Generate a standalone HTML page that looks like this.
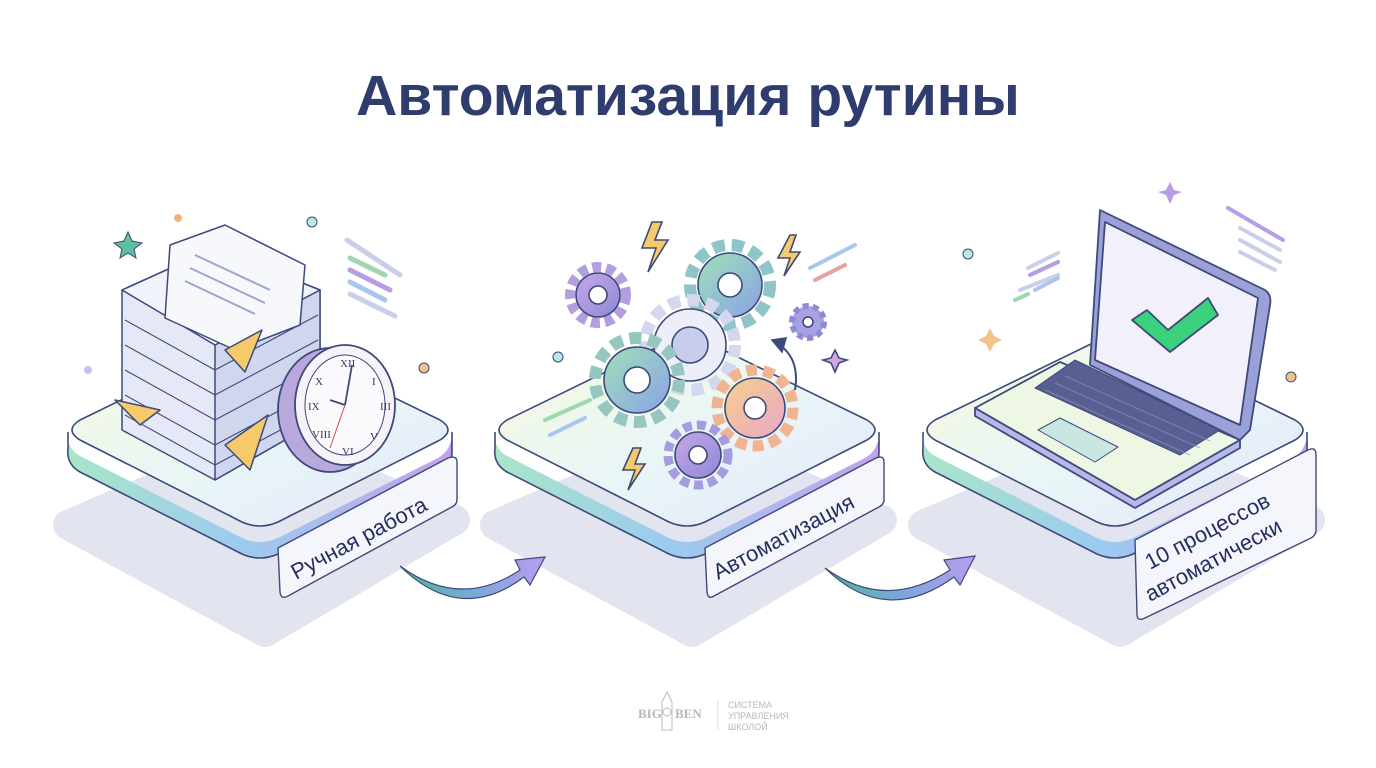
<!DOCTYPE html>
<html><head><meta charset="utf-8"><style>
html,body{margin:0;padding:0;background:#fff;}
svg{display:block;}
</style></head><body>
<svg width="1376" height="768" viewBox="0 0 1376 768" xmlns="http://www.w3.org/2000/svg" font-family="Liberation Sans, sans-serif">
<defs>
<linearGradient id="side" x1="0" y1="0" x2="1" y2="0">
<stop offset="0" stop-color="#a8e6c8"/><stop offset="0.45" stop-color="#9ccbef"/><stop offset="1" stop-color="#c2a2ec"/>
</linearGradient>
<linearGradient id="top" x1="0" y1="0" x2="1" y2="1">
<stop offset="0" stop-color="#f4f9dc"/><stop offset="0.5" stop-color="#eaf6f6"/><stop offset="1" stop-color="#e2e8fb"/>
</linearGradient>
<linearGradient id="arr" x1="0" y1="0" x2="1" y2="0">
<stop offset="0" stop-color="#4fb59a"/><stop offset="0.5" stop-color="#7aa8d8"/><stop offset="1" stop-color="#b89df0"/>
</linearGradient>
<linearGradient id="gear1" x1="0" y1="0" x2="1" y2="1">
<stop offset="0" stop-color="#9fe0b8"/><stop offset="1" stop-color="#8aa2e6"/>
</linearGradient>
<linearGradient id="gear2" x1="0" y1="0" x2="1" y2="1">
<stop offset="0" stop-color="#f7d08a"/><stop offset="1" stop-color="#e7a7c8"/>
</linearGradient>
<linearGradient id="gear3" x1="0" y1="0" x2="1" y2="1">
<stop offset="0" stop-color="#c9a6e8"/><stop offset="1" stop-color="#8c8ad6"/>
</linearGradient>
<g id="plat">
<path d="M68 525 L265 440 L455 520 L265 632 Z" fill="#e2e4ef" stroke="#e2e4ef" stroke-width="30" stroke-linejoin="round"/>
<path d="M68 432 Q66 448 80 456 L242 538 Q260 546 278 538 L438 458 Q452 450 452 432 L452 452 Q452 466 438 474 L278 554 Q260 562 242 554 L80 472 Q66 464 68 448 Z" fill="url(#side)"/>
<path d="M80 420 L240 342 Q260 334 280 342 L440 420 Q456 430 440 440 L278 522 Q260 530 242 522 L80 440 Q64 430 80 420 Z" fill="url(#top)" stroke="#3d4a7a" stroke-width="1.6"/>
<path d="M68 432 L68 448 Q66 464 80 472 L242 554 Q260 562 278 554 L438 474 Q452 466 452 452 L452 432" fill="none" stroke="#3d4a7a" stroke-width="1.6"/>
</g>
</defs>
<rect width="1376" height="768" fill="#fff"/>
<text x="688" y="115" text-anchor="middle" font-size="57" font-weight="bold" fill="#2f3d6e">Автоматизация рутины</text>

<use href="#plat" x="0" y="0"/>
<use href="#plat" x="427" y="0"/>
<use href="#plat" x="855" y="0"/>

<!-- Panel 1: papers -->
<g stroke="#3d4a7a" stroke-width="1.5" stroke-linejoin="round">
<path d="M122 290 L215 248 L320 290 L320 420 L215 480 L122 430 Z" fill="#e5e9f5"/>
<path d="M215 480 L215 345 L320 290 L320 420 Z" fill="#cfd6ee"/>
<path d="M122 290 L215 248 L320 290 L215 345 Z" fill="#f1f3fa"/>
<path d="M125 320 L215 370 L318 315 M125 345 L215 395 L318 340 M125 370 L215 420 L318 365 M125 395 L215 445 L318 390 M125 415 L215 465 L318 410" fill="none" stroke-width="1.1"/>
<path d="M170 245 L225 225 L305 265 L300 325 L235 350 L165 318 Z" fill="#f7f8fc"/>
<path d="M195 255 L270 290 M190 268 L265 303 M185 281 L255 314" stroke="#9aa6cc" stroke-width="2"/>
<path d="M225 350 L262 330 L245 372 Z" fill="#f6c96a"/>
<path d="M115 400 L160 410 L140 425 Z" fill="#f6c96a"/>
<path d="M225 445 L268 415 L250 470 Z" fill="#f6c96a"/>
</g>
<g stroke="#3d4a7a" stroke-width="1.8">
<ellipse cx="330" cy="410" rx="52" ry="62" fill="#b9a8dc"/>
<ellipse cx="345" cy="405" rx="50" ry="60" fill="#f6f3f8"/>
<ellipse cx="345" cy="405" rx="40" ry="50" fill="#fbf9fb" stroke-width="1"/>
<line x1="345" y1="405" x2="330" y2="400"/><line x1="345" y1="405" x2="352" y2="365"/>
<line x1="345" y1="405" x2="330" y2="448" stroke="#d24a4a" stroke-width="1"/>
</g>
<g font-size="11" fill="#2f3d6e" font-family="Liberation Serif, serif">
<text x="340" y="367">XII</text><text x="372" y="385">I</text><text x="380" y="410">III</text><text x="370" y="440">V</text><text x="342" y="455">VI</text><text x="312" y="438">VIII</text><text x="308" y="410">IX</text><text x="315" y="385">X</text>
</g>
<polygon points="128,232 132,241 142,243 134,249 136,258 128,253 120,258 122,249 114,243 124,241" fill="#5fc0a0" stroke="#3d4a7a" stroke-width="1"/>
<circle cx="178" cy="218" r="4" fill="#f3b27a"/><circle cx="312" cy="222" r="5" fill="#bfe6e6" stroke="#3d4a7a"/>
<circle cx="88" cy="370" r="4" fill="#bfc4ee"/><circle cx="424" cy="368" r="5" fill="#f3c28a" stroke="#3d4a7a"/>
<g stroke-linecap="round" stroke-width="5">
<line x1="347" y1="240" x2="400" y2="275" stroke="#c9cfe8"/>
<line x1="350" y1="258" x2="385" y2="275" stroke="#9fd6b0"/>
<line x1="350" y1="270" x2="390" y2="290" stroke="#b79de6"/>
<line x1="350" y1="282" x2="385" y2="300" stroke="#a9c7ee"/>
<line x1="350" y1="294" x2="395" y2="316" stroke="#c9cfe8"/>
</g>

<!-- Panel 2: gears -->
<g stroke="#3d4a7a" stroke-width="1.6">
<circle cx="598" cy="295" r="28" fill="none" stroke="#b39ee0" stroke-dasharray="9 5" stroke-width="10"/>
<circle cx="598" cy="295" r="22" fill="url(#gear3)"/><circle cx="598" cy="295" r="9" fill="#fff"/>
<circle cx="730" cy="285" r="40" fill="none" stroke="#8fc4c8" stroke-dasharray="12 7" stroke-width="12"/>
<circle cx="730" cy="285" r="32" fill="url(#gear1)"/><circle cx="730" cy="285" r="12" fill="#fff"/>
<circle cx="690" cy="345" r="45" fill="none" stroke="#d4d8ee" stroke-dasharray="12 7" stroke-width="12"/>
<circle cx="690" cy="345" r="36" fill="#eceef8"/><circle cx="690" cy="345" r="18" fill="#c7cdea"/>
<circle cx="637" cy="380" r="42" fill="none" stroke="#95c7c0" stroke-dasharray="12 7" stroke-width="12"/>
<circle cx="637" cy="380" r="33" fill="url(#gear1)"/><circle cx="637" cy="380" r="13" fill="#fff"/>
<circle cx="755" cy="408" r="38" fill="none" stroke="#f0b590" stroke-dasharray="11 6" stroke-width="11"/>
<circle cx="755" cy="408" r="30" fill="url(#gear2)"/><circle cx="755" cy="408" r="11" fill="#fff"/>
<circle cx="698" cy="455" r="30" fill="none" stroke="#a59ce0" stroke-dasharray="9 5" stroke-width="9"/>
<circle cx="698" cy="455" r="23" fill="url(#gear3)"/><circle cx="698" cy="455" r="9" fill="#fff"/>
<circle cx="808" cy="322" r="16" fill="#a7a2e4" stroke="#8f8ad6" stroke-dasharray="6 4" stroke-width="6"/>
<circle cx="808" cy="322" r="5" fill="#fff"/>
<path d="M652 222 L642 248 L656 248 L648 272 L668 240 L655 240 L662 222 Z" fill="#f6c96a"/>
<path d="M790 235 L778 258 L790 258 L784 276 L800 252 L790 252 L796 235 Z" fill="#f6c96a"/>
<path d="M633 448 L623 470 L635 470 L628 490 L645 464 L635 464 L641 448 Z" fill="#f6c96a"/>
<path d="M795 390 Q800 360 780 345" fill="none" stroke-width="2"/><path d="M772 340 L786 338 L782 352 Z" fill="#3d4a7a"/>
<polygon points="835,350 839,358 847,360 839,363 835,372 831,363 823,360 831,358" fill="#d5a7e0"/>
</g>
<g stroke-linecap="round" stroke-width="4">
<line x1="810" y1="268" x2="855" y2="245" stroke="#a9c7ee"/>
<line x1="815" y1="280" x2="845" y2="265" stroke="#e8a0a0"/>
<line x1="545" y1="420" x2="590" y2="400" stroke="#9fd6b0"/>
<line x1="550" y1="435" x2="585" y2="418" stroke="#a9c7ee"/>
</g>
<circle cx="558" cy="357" r="5" fill="#bfe6e6" stroke="#3d4a7a"/>

<!-- Panel 3: laptop -->
<g stroke="#3d4a7a" stroke-width="1.8" stroke-linejoin="round">
<path d="M975 408 L1060 362 L1240 440 L1135 500 Z" fill="#eef6e4"/>
<path d="M975 408 L975 416 L1135 508 L1240 448 L1240 440 L1135 500 Z" fill="#b7b7ea"/>
<path d="M1035 388 L1075 360 L1220 430 L1180 455 Z" fill="#5a5f92" stroke-width="1"/>
<path d="M1038 430 L1060 418 L1118 447 L1095 462 Z" fill="#c9e6e0" stroke-width="1"/>
<path d="M1100 210 L1265 290 Q1272 295 1270 305 L1250 430 L1240 440 L1090 365 Z" fill="#9aa0d8"/>
<path d="M1105 222 L1258 298 L1240 425 L1095 360 Z" fill="#f2f0fb"/>
<path d="M1132 320 L1147 310 L1168 330 L1208 298 L1218 315 L1170 352 Z" fill="#3cd17c"/>
</g>
<g stroke="#8a92c8" stroke-width="1" fill="none" opacity="0.7">
<path d="M1045 390 L1190 455 M1055 383 L1200 448 M1065 376 L1210 441"/>
</g>
<polygon points="1170,182 1174,190 1182,192 1174,195 1170,204 1166,195 1158,192 1166,190" fill="#b79de6"/>
<polygon points="990,328 994,336 1002,340 994,344 990,352 986,344 978,340 986,336" fill="#f3c28a"/>
<circle cx="968" cy="254" r="5" fill="#bfe6e6" stroke="#3d4a7a"/>
<circle cx="1291" cy="377" r="5" fill="#f3c28a" stroke="#3d4a7a"/>
<g stroke-linecap="round" stroke-width="4">
<line x1="1228" y1="208" x2="1283" y2="240" stroke="#b79de6"/>
<line x1="1240" y1="228" x2="1280" y2="250" stroke="#c9cfe8"/>
<line x1="1240" y1="240" x2="1280" y2="262" stroke="#c9cfe8"/>
<line x1="1240" y1="252" x2="1275" y2="270" stroke="#c9cfe8"/>
<line x1="1028" y1="268" x2="1058" y2="253" stroke="#c9cfe8"/>
<line x1="1030" y1="275" x2="1058" y2="262" stroke="#b79de6"/>
<line x1="1020" y1="290" x2="1058" y2="275" stroke="#c9cfe8"/>
<line x1="1035" y1="290" x2="1058" y2="278" stroke="#a9c7ee"/>
<line x1="1015" y1="300" x2="1028" y2="294" stroke="#9fd6b0"/>
</g>

<!-- Labels -->
<g stroke="#3d4a7a" stroke-width="1.4">
<path d="M278 548 L448 458 Q457 455 457 462 L457 500 Q457 505 450 508 L288 596 Q281 600 280 592 Z" fill="#f4f6fc"/>
<path d="M705 548 L876 458 Q884 455 884 462 L884 500 Q884 505 877 508 L714 596 Q708 600 707 592 Z" fill="#f4f6fc"/>
<path d="M1135 540 L1308 450 Q1316 446 1316 455 L1316 530 Q1316 536 1309 539 L1145 618 Q1137 622 1137 614 Z" fill="#f4f6fc"/>
</g>
<g font-size="22" fill="#22305e">
<text transform="translate(296,580) rotate(-28)">Ручная работа</text>
<text transform="translate(718,580) rotate(-28)">Автоматизация</text>
<text transform="translate(1150,570) rotate(-28)">10 процессов</text>
<text transform="translate(1150,602) rotate(-28)">автоматически</text>
</g>

<!-- Arrows -->
<path d="M400 566 Q460 610 520 570 L515 560 L545 557 L530 585 L524 577 Q460 625 400 566 Z" fill="url(#arr)" stroke="#3d4a7a" stroke-width="1.2"/>
<path d="M825 568 Q885 612 950 570 L944 560 L975 556 L960 585 L954 577 Q885 627 825 568 Z" fill="url(#arr)" stroke="#3d4a7a" stroke-width="1.2"/>

<!-- Footer logo -->
<g fill="#b8b8b8" font-size="11">
<text x="638" y="718" font-family="Liberation Serif, serif" font-weight="bold" font-size="13">BIG</text>
<path d="M662 730 L662 702 L667 692 L672 702 L672 730 Z" fill="none" stroke="#bbb"/>
<circle cx="667" cy="712" r="4" fill="none" stroke="#bbb"/>
<text x="675" y="718" font-family="Liberation Serif, serif" font-weight="bold" font-size="13">BEN</text>
<line x1="718" y1="700" x2="718" y2="730" stroke="#ddd"/>
<text x="728" y="708" font-size="9">СИСТЕМА</text>
<text x="728" y="719" font-size="9">УПРАВЛЕНИЯ</text>
<text x="728" y="730" font-size="9">ШКОЛОЙ</text>
</g>
</svg>
</body></html>
